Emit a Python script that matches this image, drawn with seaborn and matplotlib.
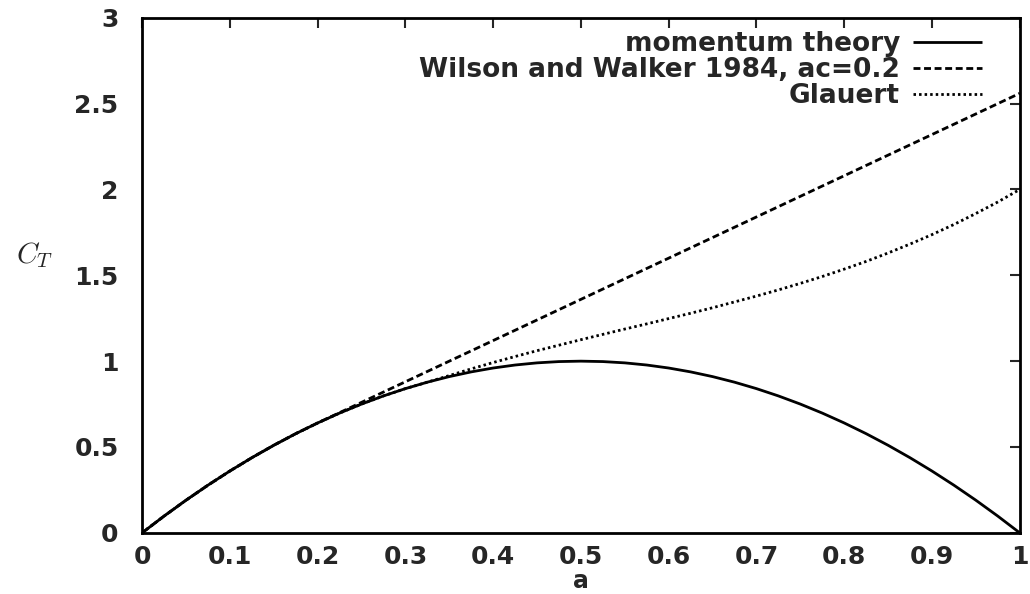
import matplotlib
matplotlib.use("Agg")
import matplotlib.pyplot as plt
import seaborn as sns
import pandas as pd

a_values = [0.0, 0.025, 0.05, 0.075, 0.1, 0.125, 0.15, 0.175, 0.2, 0.225,
            0.25, 0.275, 0.3, 0.325, 0.35, 0.375, 0.4, 0.425, 0.45, 0.475,
            0.5, 0.525, 0.55, 0.575, 0.6, 0.625, 0.65, 0.675, 0.7, 0.725,
            0.75, 0.775, 0.8, 0.825, 0.85, 0.875, 0.9, 0.925, 0.95, 0.975, 1.0]
momentum = [0.0, 0.0975, 0.19, 0.2775, 0.36, 0.4375, 0.51, 0.5775, 0.64, 0.6975,
            0.75, 0.7975, 0.84, 0.8775, 0.91, 0.9375, 0.96, 0.9775, 0.99, 0.9975,
            1.0, 0.9975, 0.99, 0.9775, 0.96, 0.9375, 0.91, 0.8775, 0.84, 0.7975,
            0.75, 0.6975, 0.64, 0.5775, 0.51, 0.4375, 0.36, 0.2775, 0.19, 0.0975, 0.0]
wilson_walker = [0.0, 0.0975, 0.19, 0.2775, 0.36, 0.4375, 0.51, 0.5775, 0.64, 0.70,
                 0.76, 0.82, 0.88, 0.94, 1.0, 1.06, 1.12, 1.18, 1.24, 1.30,
                 1.36, 1.42, 1.48, 1.54, 1.6, 1.66, 1.72, 1.78, 1.84, 1.90,
                 1.96, 2.02, 2.08, 2.14, 2.2, 2.26, 2.32, 2.38, 2.44, 2.50, 2.56]
glauert = [0.0, 0.0975, 0.19, 0.2775, 0.36, 0.4375, 0.51, 0.5775, 0.64, 0.6975,
           0.75, 0.7975, 0.84, 0.8775, 0.916, 0.955, 0.992, 1.027, 1.061, 1.093,
           1.125, 1.156, 1.187, 1.217, 1.248, 1.279, 1.311, 1.345, 1.379, 1.415,
           1.453, 1.493, 1.536, 1.581, 1.630, 1.682, 1.737, 1.796, 1.860, 1.927, 2.0]
series_names = ["momentum theory", "Wilson and Walker 1984, ac=0.2", "Glauert"]
x_ticks = [0, 0.1, 0.2, 0.3, 0.4, 0.5, 0.6, 0.7, 0.8, 0.9, 1]
x_tick_labels = ["0", "0.1", "0.2", "0.3", "0.4", "0.5", "0.6", "0.7", "0.8", "0.9", "1"]
y_ticks = [0, 0.5, 1, 1.5, 2, 2.5, 3]
y_tick_labels = ["0", "0.5", "1", "1.5", "2", "2.5", "3"]

sns.set_style("white")
plt.rcParams['font.family'] = ['DejaVu Sans']
plt.rcParams['mathtext.fontset'] = 'cm'

fig = plt.figure(figsize=(10.30, 5.94), dpi=100)
ax = fig.add_axes([0.138, 0.103, 0.852, 0.867])

styles = [(0, ()), (0, (2.5, 1.3)), (0, (0.9, 1.1))]
for name, vals, ls in zip(series_names, [momentum, wilson_walker, glauert], styles):
    df = pd.DataFrame({"a": a_values, "CT": vals})
    sns.lineplot(data=df, x="a", y="CT", ax=ax, color="black", linewidth=2.0,
                 linestyle=ls, label=name)

ax.set_xlim(0, 1)
ax.set_ylim(0, 3)
ax.set_xticks(x_ticks)
ax.set_xticklabels(x_tick_labels)
ax.set_yticks(y_ticks)
ax.set_yticklabels(y_tick_labels)
ax.tick_params(axis="both", direction="in", length=7, width=1.5, top=True, right=True,
               labelsize=18)
ax.tick_params(axis="x", pad=9)
ax.tick_params(axis="y", pad=17)
for lab in ax.get_xticklabels() + ax.get_yticklabels():
    lab.set_fontweight("bold")
for sp in ax.spines.values():
    sp.set_linewidth(2)
    sp.set_color("black")

ax.set_xlabel("a", fontsize=17, fontweight="bold")
ax.xaxis.set_label_coords(0.5, -0.071)
ax.set_ylabel("$C_T$", fontsize=21, rotation=0, labelpad=0)
ax.yaxis.set_label_coords(-0.122, 0.51)

leg = ax.legend(loc="upper right", frameon=False, markerfirst=False,
                fontsize=19, handlelength=2.6, labelspacing=0.0,
                borderaxespad=0.2, handletextpad=0.5, bbox_to_anchor=(0.975, 1.005))
for t in leg.get_texts():
    t.set_fontweight("bold")
    t.set_ha("right")

fig.savefig("out.png", dpi=100)
